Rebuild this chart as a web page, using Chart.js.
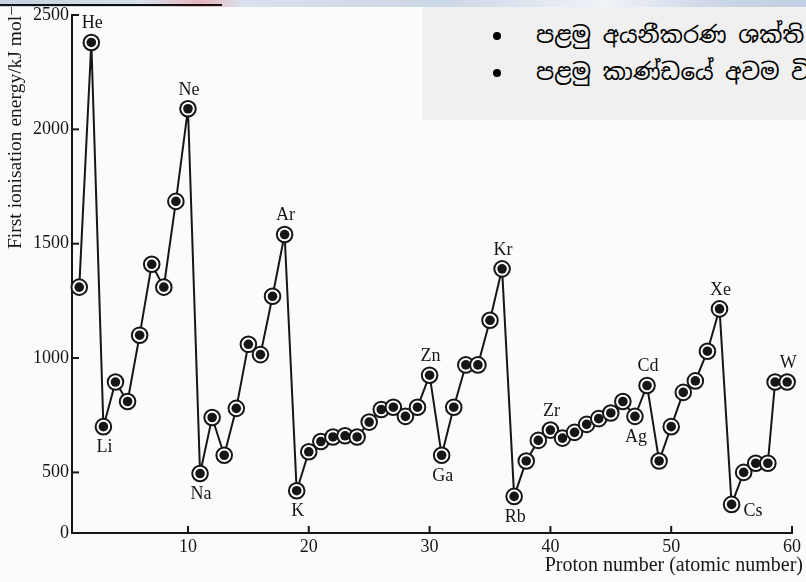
<!DOCTYPE html>
<html>
<head>
<meta charset="utf-8">
<script src="https://cdn.jsdelivr.net/npm/chart.js@4.4.1/dist/chart.umd.min.js"></script>
<style>
  html, body { margin: 0; padding: 0; background: #fbfbf9; }
  #wrap { position: relative; width: 806px; height: 582px; overflow: hidden; background: #fbfbf9; }
  #c { position: absolute; left: 0; top: 0; }
  #topbar {
    position: absolute; left: 0; top: 0; width: 806px; height: 7px;
    background: linear-gradient(90deg, #c6d1e1 0%, #d6dfeb 18%, #e9b4bc 25%, #d9e1ec 30%, #ccd7e6 55%, #f0f3f8 75%, #c9d4e5 90%, #c3cfe2 100%);
  }
  #rule { position: absolute; left: 0; top: 4px; width: 222px; height: 2px; background: #111; }
  #note {
    position: absolute; left: 422px; top: 7px; width: 384px; height: 113px;
    background: #f0f0f0; overflow: hidden;
    font-family: "Noto Sans Sinhala", "Iskoola Pota", "Noto Sans", sans-serif;
    font-size: 23px; line-height: 27px; color: #000;
  }
  .item { position: absolute; left: 0; white-space: nowrap; }
  .bullet { position: absolute; left: 71px; top: 10px; width: 8px; height: 8px; border-radius: 50%; background: #000; }
  .txt { position: absolute; left: 114px; top: 0; }
</style>
</head>
<body>
<div id="wrap">
  <canvas id="c" width="806" height="582"></canvas>
  <div id="topbar"></div>
  <div id="rule"></div>
  <div id="note">
    <div class="item" style="top:15px"><span class="bullet"></span><span class="txt">පළමු අයනීකරණ ශක්ති</span></div>
    <div class="item" style="top:52px"><span class="bullet"></span><span class="txt">පළමු කාණ්ඩයේ අවම වි</span></div>
  </div>
</div>
<script>
// Proton (atomic) numbers along the x axis
const protonNumbers = [
  1, 2, 3, 4, 5, 6, 7, 8, 9, 10,
  11, 12, 13, 14, 15, 16, 17, 18, 19, 20,
  21, 22, 23, 24, 25, 26, 27, 28, 29, 30,
  31, 32, 33, 34, 35, 36, 37, 38, 39, 40,
  41, 42, 43, 44, 45, 46, 47, 48, 49, 50,
  51, 52, 53, 54, 55, 56, 57, 58, 58.6, 59.6
];

// First ionisation energy, kJ mol-1
const ionisationEnergy = [
  1310, 2380, 700, 895, 810, 1100, 1410, 1310, 1685, 2090,
  495, 740, 575, 780, 1060, 1015, 1270, 1540, 420, 590,
  635, 655, 660, 655, 720, 775, 785, 745, 785, 925,
  575, 785, 970, 970, 1165, 1390, 395, 550, 640, 685,
  650, 675, 710, 735, 760, 810, 745, 880, 550, 700,
  850, 900, 1030, 1215, 360, 500, 540, 540, 895, 895
];

// Element symbols written beside particular points (index into the arrays above)
const labelledPoints = [1, 2, 9, 10, 17, 18, 29, 30, 35, 36, 39, 46, 47, 53, 54, 59];
const labelSymbols   = ['He', 'Li', 'Ne', 'Na', 'Ar', 'K', 'Zn', 'Ga', 'Kr', 'Rb', 'Zr', 'Ag', 'Cd', 'Xe', 'Cs', 'W'];

// Axis ticks; the energy axis is broken, its baseline carries the "0" label
const xTickValues = [10, 20, 30, 40, 50, 60];
const yTickValues = [500, 1000, 1500, 2000, 2500];
const yAxisFloor = 235;
const yFloorLabel = '0';

const xTitle = 'Proton number (atomic number)';
const yTitle = 'First ionisation energy/kJ mol\u207B\u00B9';

const points = protonNumbers.map((n, i) => ({ x: n, y: ionisationEnergy[i] }));

const INK = '#161616';
const SERIF = '"Liberation Serif", "DejaVu Serif", serif';

// where each symbol sits relative to its point
const below = new Set(['Li', 'Na', 'K', 'Ga', 'Rb', 'Ag']);
const beside = new Set(['Cs']);

const decorations = {
  id: 'decorations',
  afterDatasetsDraw(chart) {
    const { ctx, chartArea: a, scales: { x, y } } = chart;
    ctx.save();
    // inward tick marks
    ctx.strokeStyle = INK;
    ctx.lineWidth = 2;
    xTickValues.forEach(v => {
      const px = x.getPixelForValue(v);
      ctx.beginPath(); ctx.moveTo(px, a.bottom); ctx.lineTo(px, a.bottom - 7); ctx.stroke();
    });
    yTickValues.forEach(v => {
      const py = y.getPixelForValue(v);
      ctx.beginPath(); ctx.moveTo(a.left, py); ctx.lineTo(a.left + 7, py); ctx.stroke();
    });

    // element symbols
    ctx.fillStyle = INK;
    ctx.font = '18px ' + SERIF;
    ctx.textBaseline = 'middle';
    labelledPoints.forEach((idx, k) => {
      const sym = labelSymbols[k];
      const px = x.getPixelForValue(protonNumbers[idx]);
      const py = y.getPixelForValue(ionisationEnergy[idx]);
      if (beside.has(sym)) {
        ctx.textAlign = 'left';
        ctx.fillText(sym, px + 12, py + 7);
      } else {
        ctx.textAlign = 'center';
        ctx.fillText(sym, px + 1, below.has(sym) ? py + 21 : py - 19);
      }
    });

    // axis titles
    ctx.font = '20px ' + SERIF;
    ctx.textAlign = 'right';
    ctx.fillText(xTitle, 803, 566);

    ctx.translate(16, 249);
    ctx.rotate(-Math.PI / 2);
    ctx.font = '19.5px ' + SERIF;
    ctx.textAlign = 'left';
    ctx.fillText(yTitle, 0, 0);
    ctx.restore();
  }
};

new Chart(document.getElementById('c'), {
  type: 'line',
  data: {
    datasets: [
      {
        // filled centres
        data: points,
        showLine: false,
        order: 0,
        pointRadius: 4.8,
        pointHoverRadius: 4.8,
        pointBackgroundColor: INK,
        pointBorderWidth: 0,
        clip: false
      },
      {
        data: points,
        order: 1,
        borderColor: INK,
        borderWidth: 2,
        tension: 0,
        pointRadius: 7.8,
        pointHoverRadius: 7.8,
        pointBackgroundColor: '#fdfdfc',
        pointBorderColor: INK,
        pointBorderWidth: 2,
        clip: false
      }
    ]
  },
  options: {
    responsive: false,
    animation: false,
    devicePixelRatio: 1,
    layout: { padding: { left: 0, right: 14, top: 15, bottom: 0 } },
    plugins: { legend: { display: false }, tooltip: { enabled: false }, title: { display: false } },
    scales: {
      x: {
        type: 'linear',
        min: 0.4,
        max: 60,
        afterBuildTicks: s => { s.ticks = xTickValues.map(v => ({ value: v })); },
        afterFit: s => { s.height = 49; },
        ticks: { color: INK, font: { family: SERIF, size: 18 }, padding: 3, maxRotation: 0 },
        grid: { drawOnChartArea: false, drawTicks: false },
        border: { color: INK, width: 2 }
      },
      y: {
        type: 'linear',
        min: yAxisFloor,
        max: 2500,
        afterBuildTicks: s => { s.ticks = [yAxisFloor, ...yTickValues].map(v => ({ value: v })); },
        afterFit: s => { s.width = 72; },
        ticks: {
          color: INK,
          font: { family: SERIF, size: 18 },
          padding: 3,
          callback: v => (v === yAxisFloor ? yFloorLabel : String(v))
        },
        grid: { drawOnChartArea: false, drawTicks: false },
        border: { color: INK, width: 2 }
      }
    }
  },
  plugins: [decorations]
});
</script>
</body>
</html>
